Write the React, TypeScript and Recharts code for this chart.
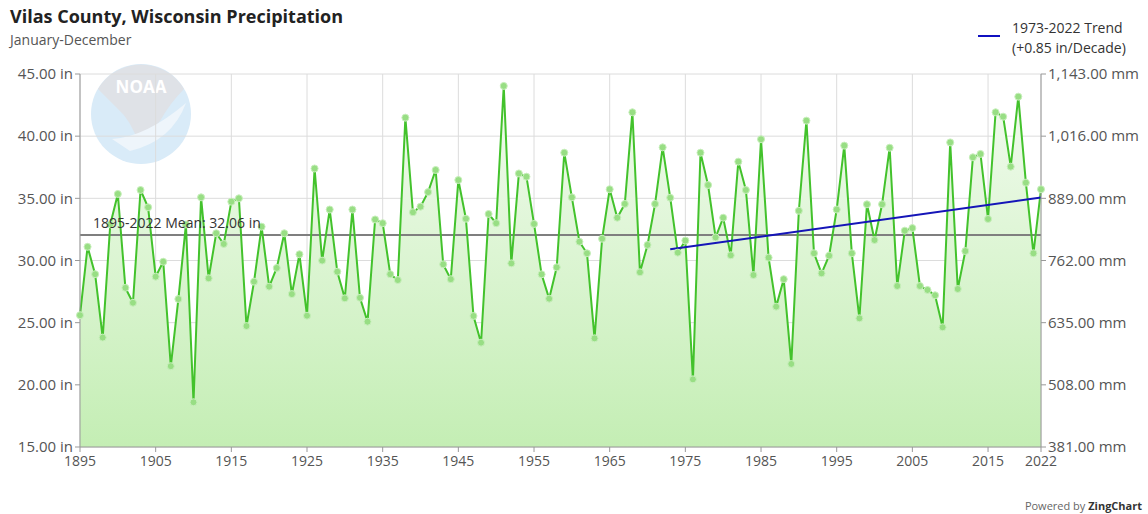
import React from "react";
import {
  Area,
  CartesianGrid,
  ComposedChart,
  Line,
  ReferenceLine,
  XAxis,
  YAxis,
} from "recharts";

const firstYear = 1895;

const precip = [
  25.6, 31.1, 28.9, 23.8, 32.9, 35.35, 27.8, 26.6, 35.67, 34.28,
  28.7, 29.9, 21.5, 26.9, 32.9, 18.6, 35.08, 28.57, 32.19, 31.33,
  34.73, 35.0, 24.73, 28.3, 32.72, 27.9, 29.4, 32.19, 27.3, 30.5,
  25.56, 37.4, 29.99, 34.1, 29.1, 26.96, 34.1, 27.0, 25.08, 33.3,
  33.0, 28.9, 28.43, 41.49, 33.88, 34.33, 35.5, 37.28, 29.69, 28.5,
  36.47, 33.36, 25.54, 23.39, 33.74, 33.0, 44.04, 29.77, 37.0, 36.74,
  32.94, 28.89, 26.93, 29.45, 38.67, 35.08, 31.51, 30.58, 23.74, 31.75,
  35.73, 33.44, 34.55, 41.92, 29.05, 31.25, 34.55, 39.1, 35.05, 30.63,
  31.6, 20.44, 38.67, 36.07, 31.86, 33.44, 30.42, 37.95, 35.67, 28.83,
  39.75, 30.23, 26.29, 28.5, 21.68, 34.0, 41.25, 30.58, 28.97, 30.39,
  34.1, 39.24, 30.58, 25.35, 34.52, 31.65, 34.52, 39.07, 27.95, 32.4,
  32.61, 27.95, 27.63, 27.2, 24.63, 39.5, 27.71, 30.76, 38.3, 38.57,
  33.34, 41.92, 41.57, 37.55, 43.18, 36.26, 30.58, 35.73,
];

// trend endpoints (1973 and 2022)
const trendYears = [1973, 2022];
const trendValues = [30.9, 35.07];

const meanValue = 32.06;

const xTicks = [1895, 1905, 1915, 1925, 1935, 1945, 1955, 1965, 1975, 1985, 1995, 2005, 2015, 2022];
const inTicks = [15, 20, 25, 30, 35, 40, 45];
const mmTicks = [381, 508, 635, 762, 889, 1016, 1143];

const data = precip.map((v, i) => {
  const year = firstYear + i;
  const t = trendYears.indexOf(year);
  return { year, precip: v, trend: t >= 0 ? trendValues[t] : null };
});

const font = "'Open Sans', sans-serif";

const fmtIn = (v: number) => `${v.toFixed(2)} in`;
const fmtMm = (v: number) =>
  `${v.toLocaleString("en-US", { minimumFractionDigits: 2, maximumFractionDigits: 2 })} mm`;

function NoaaLogo() {
  return (
    <svg width={110} height={110} style={{ position: "absolute", left: 86, top: 59 }}>
      <circle cx={55} cy={55} r={50} fill="#d9ebf8" />
      <path d="M 12 30 A 50 50 0 0 1 98 30 Q 84 44 74 62 Q 64 74 52 84 Q 46 62 30 48 Q 20 38 12 30 Z" fill="#dfe2e7" />
      <path d="M 26 80 Q 60 78 100 44 Q 86 82 44 92 Z" fill="#eef5fb" />
      <text x={55} y={34} textAnchor="middle" fontSize={17} fontWeight={700} fill="#ffffff" fontFamily={font}>
        NOAA
      </text>
    </svg>
  );
}

export default function App() {
  return (
    <div style={{ position: "absolute", left: 0, top: 0, width: 1148, height: 514, background: "#fff", fontFamily: font }}>
      <div style={{ position: "absolute", left: 10, top: 4, fontSize: 18, fontWeight: 700, color: "#222" }}>
        Vilas County, Wisconsin Precipitation
      </div>
      <div style={{ position: "absolute", left: 10, top: 30, fontSize: 14, color: "#555" }}>January-December</div>
      <NoaaLogo />
      <div style={{ position: "absolute", left: 978, top: 18, fontSize: 14, color: "#333", lineHeight: "20px" }}>
        <div style={{ position: "absolute", left: 0, top: 17, width: 22, height: 2, background: "#1010c0" }} />
        <div style={{ paddingLeft: 34, whiteSpace: "nowrap" }}>
          1973-2022 Trend
          <br />
          (+0.85 in/Decade)
        </div>
      </div>
      <div style={{ position: "absolute", right: 6, top: 498, fontSize: 11, color: "#666", whiteSpace: "nowrap" }}>
        Powered by <span style={{ fontWeight: 700, color: "#333" }}>ZingChart</span>
      </div>
      <div style={{ position: "absolute", left: 0, top: 0 }}>
        <ComposedChart
          width={1148}
          height={514}
          data={data}
          margin={{ top: 74, right: 7, bottom: 37, left: 8 }}
        >
          <defs>
            <linearGradient id="areaFill" x1="0" y1="0" x2="0" y2="1">
              <stop offset="0%" stopColor="#f2fbef" />
              <stop offset="100%" stopColor="#c4eeb4" />
            </linearGradient>
          </defs>
          <CartesianGrid stroke="#dcdcdc" strokeWidth={1} yAxisId="in" />
          <XAxis
            dataKey="year"
            type="number"
            domain={[1895, 2022]}
            ticks={xTicks}
            interval={0}
            height={30}
            stroke="#999"
            tickSize={5}
            tick={{ fontSize: 14, fill: "#555", fontFamily: font }}
            tickMargin={4}
          />
          <YAxis
            yAxisId="in"
            domain={[15, 45]}
            ticks={inTicks}
            width={72}
            stroke="#999"
            tickSize={5}
            tickMargin={2}
            tickFormatter={fmtIn}
            tick={{ fontSize: 15, fill: "#555", fontFamily: font }}
          />
          <YAxis
            yAxisId="mm"
            orientation="right"
            type="number"
            domain={[381, 1143]}
            allowDataOverflow
            ticks={mmTicks}
            interval={0}
            width={100}
            stroke="#999"
            tickSize={5}
            tickMargin={2}
            tickFormatter={fmtMm}
            tick={{ fontSize: 15, fill: "#555", fontFamily: font }}
          />
          <Area
            yAxisId="in"
            dataKey="precip"
            type="linear"
            stroke="none"
            fill="url(#areaFill)"
            fillOpacity={1}
            baseValue={15}
            isAnimationActive={false}
          />
          <ReferenceLine yAxisId="in" y={meanValue} stroke="#7f7f7f" strokeWidth={2} />
          <Line
            yAxisId="in"
            dataKey="precip"
            type="linear"
            stroke="#43c22c"
            strokeWidth={2}
            dot={{ r: 3.5, fill: "#98de84", stroke: "#c8efbc", strokeWidth: 1 }}
            activeDot={false}
            isAnimationActive={false}
          />
          <Line
            yAxisId="in"
            dataKey="trend"
            type="linear"
            stroke="#1515b8"
            strokeWidth={2}
            dot={false}
            connectNulls
            activeDot={false}
            isAnimationActive={false}
          />
        </ComposedChart>
      </div>
      <div style={{ position: "absolute", left: 93, top: 213, fontSize: 14, color: "#333", whiteSpace: "nowrap", pointerEvents: "none" }}>
        1895-2022 Mean: 32.06 in
      </div>
    </div>
  );
}
